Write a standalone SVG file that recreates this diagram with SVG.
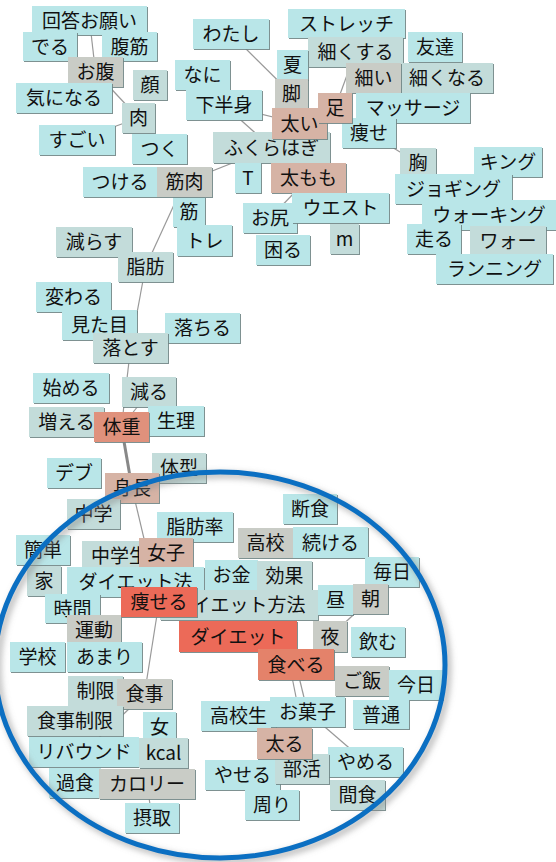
<svg xmlns="http://www.w3.org/2000/svg" width="556" height="862" viewBox="0 0 556 862">
<defs>
<filter id="sh" x="-10%" y="-10%" width="130%" height="140%">
<feDropShadow dx="1" dy="1" stdDeviation="0.3" flood-color="#6f8585" flood-opacity="0.9"/>
</filter>
<filter id="blur" x="-10%" y="-10%" width="120%" height="120%">
<feGaussianBlur stdDeviation="3"/>
</filter>
</defs>
<style>
rect{filter:url(#sh);}
text{font-family:"Noto Sans CJK JP","Noto Sans",sans-serif;font-size:19px;text-anchor:middle;fill:#111;}
.c rect{fill:#b9e6e8;}
.g rect{fill:#c3dcda;}
.k rect{fill:#c9ccc6;}
.t rect{fill:#d6b3a5;}
.s rect{fill:#e0917b;}
.r rect{fill:#ec6b58;}
.o rect{fill:#e4826a;}
#edges line{stroke:#999;stroke-width:1.2;}
#edges line.thick{stroke:#888;stroke-width:3;}
</style>
<rect x="0" y="0" width="556" height="862" fill="#fff" style="filter:none"/>
<g id="edges">
<line x1="89.5" y1="20" x2="95.5" y2="72"/>
<line x1="95.5" y1="72" x2="138.5" y2="118"/>
<line x1="138.5" y1="118" x2="77" y2="140"/>
<line x1="231" y1="34" x2="291.5" y2="94"/>
<line x1="224" y1="105" x2="299.5" y2="123.5"/>
<line x1="224" y1="105" x2="271.5" y2="147.5"/>
<line x1="184.5" y1="182" x2="271.5" y2="147.5"/>
<line x1="355.5" y1="52" x2="335" y2="108"/>
<line x1="308.5" y1="178" x2="270" y2="218"/>
<line x1="369" y1="133" x2="418" y2="163"/>
<line x1="184.5" y1="182" x2="145.5" y2="267"/>
<line x1="145.5" y1="267" x2="130.5" y2="348"/>
<line x1="130.5" y1="348" x2="121.5" y2="427"/>
<line x1="149" y1="392" x2="121.5" y2="427"/>
<line class="thick" x1="121.5" y1="427" x2="132" y2="488"/>
<line x1="132" y1="488" x2="159" y2="602"/>
<line x1="159" y1="602" x2="144.5" y2="694"/>
<line x1="144.5" y1="694" x2="84" y2="752"/>
<line x1="147" y1="784" x2="152" y2="818"/>
<line x1="296" y1="664.5" x2="307.5" y2="712"/>
<line x1="284" y1="637" x2="300" y2="717"/>
<line x1="307.5" y1="712" x2="365.5" y2="762"/>
<line x1="370.5" y1="599" x2="330" y2="636.5"/>
</g>
<g id="n01" class="c"><rect x="32" y="6" width="115" height="29"/><text x="89.5" y="27.5">回答お願い</text></g>
<g id="n02" class="c"><rect x="23" y="32" width="54" height="29"/><text x="50" y="53.5">でる</text></g>
<g id="n03" class="c"><rect x="102" y="32" width="55" height="29"/><text x="129.5" y="53.5">腹筋</text></g>
<g id="n04" class="k"><rect x="68" y="57" width="55" height="30"/><text x="95.5" y="79">お腹</text></g>
<g id="n05" class="g"><rect x="133" y="70" width="34" height="30"/><text x="150" y="92">顔</text></g>
<g id="n06" class="c"><rect x="16" y="83" width="96" height="30"/><text x="64" y="105">気になる</text></g>
<g id="n07" class="g"><rect x="122" y="103" width="33" height="30"/><text x="138.5" y="125">肉</text></g>
<g id="n08" class="c"><rect x="39" y="125" width="76" height="30"/><text x="77" y="147">すごい</text></g>
<g id="n09" class="c"><rect x="132" y="134" width="55" height="30"/><text x="159.5" y="156">つく</text></g>
<g id="n10" class="c"><rect x="83" y="167" width="74" height="30"/><text x="120" y="189">つける</text></g>
<g id="n11" class="c"><rect x="173" y="197" width="32" height="30"/><text x="189" y="219">筋</text></g>
<g id="n12" class="k"><rect x="157" y="167" width="55" height="30"/><text x="184.5" y="189">筋肉</text></g>
<g id="n13" class="c"><rect x="175" y="60" width="55" height="30"/><text x="202.5" y="82">なに</text></g>
<g id="n14" class="c"><rect x="193" y="19" width="76" height="30"/><text x="231" y="41">わたし</text></g>
<g id="n15" class="c"><rect x="288" y="9" width="117" height="29"/><text x="346.5" y="30.5">ストレッチ</text></g>
<g id="n16" class="g"><rect x="308" y="37" width="95" height="30"/><text x="355.5" y="59">細くする</text></g>
<g id="n17" class="c"><rect x="408" y="32" width="54" height="30"/><text x="435" y="54">友達</text></g>
<g id="n18" class="g"><rect x="401" y="63" width="92" height="30"/><text x="447" y="85">細くなる</text></g>
<g id="n19" class="k"><rect x="346" y="63" width="55" height="30"/><text x="373.5" y="85">細い</text></g>
<g id="n20" class="c"><rect x="277" y="50" width="31" height="30"/><text x="292.5" y="72">夏</text></g>
<g id="n21" class="k"><rect x="275" y="79" width="33" height="30"/><text x="291.5" y="101">脚</text></g>
<g id="n22" class="c"><rect x="186" y="90" width="76" height="30"/><text x="224" y="112">下半身</text></g>
<g id="n23" class="c"><rect x="356" y="93" width="114" height="30"/><text x="413" y="115">マッサージ</text></g>
<g id="n24" class="c"><rect x="342" y="118" width="54" height="30"/><text x="369" y="140">痩せ</text></g>
<g id="n25" class="g"><rect x="213" y="132" width="117" height="31"/><text x="271.5" y="154.5">ふくらはぎ</text></g>
<g id="n26" class="t"><rect x="272" y="108" width="55" height="31"/><text x="299.5" y="130.5">太い</text></g>
<g id="n27" class="t"><rect x="318" y="93" width="34" height="30"/><text x="335" y="115">足</text></g>
<g id="n28" class="c"><rect x="235" y="163" width="26" height="30"/><text x="248" y="185">T</text></g>
<g id="n29" class="t"><rect x="271" y="163" width="75" height="30"/><text x="308.5" y="185">太もも</text></g>
<g id="n30" class="g"><rect x="400" y="148" width="36" height="30"/><text x="418" y="170">胸</text></g>
<g id="n31" class="c"><rect x="474" y="147" width="68" height="30"/><text x="508" y="169">キング</text></g>
<g id="n32" class="c"><rect x="395" y="174" width="117" height="30"/><text x="453.5" y="196">ジョギング</text></g>
<g id="n33" class="c"><rect x="422" y="200" width="134" height="30"/><text x="489" y="222">ウォーキング</text></g>
<g id="n34" class="c"><rect x="243" y="203" width="54" height="30"/><text x="270" y="225">お尻</text></g>
<g id="n35" class="c"><rect x="292" y="193" width="97" height="30"/><text x="340.5" y="215">ウエスト</text></g>
<g id="n36" class="g"><rect x="330" y="224" width="29" height="30"/><text x="344.5" y="246">m</text></g>
<g id="n37" class="c"><rect x="256" y="235" width="54" height="30"/><text x="283" y="257">困る</text></g>
<g id="n38" class="c"><rect x="407" y="224" width="54" height="30"/><text x="434" y="246">走る</text></g>
<g id="n39" class="g"><rect x="470" y="226" width="76" height="30"/><text x="508" y="248">ワォー</text></g>
<g id="n40" class="c"><rect x="436" y="254" width="117" height="30"/><text x="494.5" y="276">ランニング</text></g>
<g id="n41" class="c"><rect x="177" y="225" width="55" height="31"/><text x="204.5" y="247.5">トレ</text></g>
<g id="n42" class="g"><rect x="56" y="227" width="76" height="30"/><text x="94" y="249">減らす</text></g>
<g id="n43" class="g"><rect x="118" y="252" width="55" height="30"/><text x="145.5" y="274">脂肪</text></g>
<g id="n44" class="c"><rect x="36" y="282" width="75" height="30"/><text x="73.5" y="304">変わる</text></g>
<g id="n45" class="c"><rect x="62" y="310" width="75" height="30"/><text x="99.5" y="332">見た目</text></g>
<g id="n46" class="c"><rect x="165" y="313" width="75" height="30"/><text x="202.5" y="335">落ちる</text></g>
<g id="n47" class="g"><rect x="93" y="333" width="75" height="30"/><text x="130.5" y="355">落とす</text></g>
<g id="n48" class="c"><rect x="33" y="373" width="76" height="30"/><text x="71" y="395">始める</text></g>
<g id="n49" class="g"><rect x="122" y="377" width="54" height="30"/><text x="149" y="399">減る</text></g>
<g id="n50" class="g"><rect x="29" y="407" width="75" height="30"/><text x="66.5" y="429">増える</text></g>
<g id="n51" class="c"><rect x="148" y="406" width="56" height="30"/><text x="176" y="428">生理</text></g>
<g id="n52" class="s"><rect x="94" y="412" width="55" height="30"/><text x="121.5" y="434">体重</text></g>
<g id="n53" class="c"><rect x="47" y="458" width="54" height="30"/><text x="74" y="480">デブ</text></g>
<g id="n54" class="g"><rect x="152" y="453" width="54" height="30"/><text x="179" y="475">体型</text></g>
<g id="n55" class="t"><rect x="105" y="473" width="54" height="30"/><text x="132" y="495">身長</text></g>
<g id="n56" class="g"><rect x="67" y="499" width="53" height="30"/><text x="93.5" y="521">中学</text></g>
<g id="n57" class="c"><rect x="157" y="512" width="76" height="30"/><text x="195" y="534">脂肪率</text></g>
<g id="n58" class="c"><rect x="16" y="535" width="54" height="30"/><text x="43" y="557">簡単</text></g>
<g id="n59" class="g"><rect x="82" y="541" width="75" height="30"/><text x="119.5" y="563">中学生</text></g>
<g id="n60" class="t"><rect x="139" y="538" width="54" height="30"/><text x="166" y="560">女子</text></g>
<g id="n61" class="g"><rect x="27" y="566" width="34" height="30"/><text x="44" y="588">家</text></g>
<g id="n62" class="c"><rect x="67" y="567" width="137" height="30"/><text x="135.5" y="589">ダイエット法</text></g>
<g id="n63" class="c"><rect x="45" y="594" width="55" height="29"/><text x="72.5" y="615.5">時間</text></g>
<g id="n64" class="k"><rect x="67" y="615" width="54" height="30"/><text x="94" y="637">運動</text></g>
<g id="n65" class="c"><rect x="10" y="642" width="55" height="30"/><text x="37.5" y="664">学校</text></g>
<g id="n66" class="c"><rect x="67" y="642" width="75" height="30"/><text x="104.5" y="664">あまり</text></g>
<g id="n67" class="c"><rect x="283" y="494" width="54" height="30"/><text x="310" y="516">断食</text></g>
<g id="n68" class="k"><rect x="238" y="528" width="55" height="30"/><text x="265.5" y="550">高校</text></g>
<g id="n69" class="c"><rect x="293" y="527" width="75" height="31"/><text x="330.5" y="549.5">続ける</text></g>
<g id="n70" class="c"><rect x="205" y="560" width="53" height="30"/><text x="231.5" y="582">お金</text></g>
<g id="n71" class="g"><rect x="257" y="561" width="55" height="30"/><text x="284.5" y="583">効果</text></g>
<g id="n72" class="g"><rect x="160" y="590" width="158" height="30"/><text x="239" y="612">ダイエット方法</text></g>
<g id="n73" class="r"><rect x="121" y="587" width="76" height="30"/><text x="159" y="609">痩せる</text></g>
<g id="n74" class="c"><rect x="365" y="557" width="54" height="30"/><text x="392" y="579">毎日</text></g>
<g id="n75" class="c"><rect x="318" y="585" width="35" height="30"/><text x="335.5" y="607">昼</text></g>
<g id="n76" class="k"><rect x="353" y="584" width="35" height="30"/><text x="370.5" y="606">朝</text></g>
<g id="n77" class="r"><rect x="179" y="621" width="118" height="31"/><text x="238" y="643.5">ダイエット</text></g>
<g id="n78" class="k"><rect x="313" y="621" width="34" height="31"/><text x="330" y="643.5">夜</text></g>
<g id="n79" class="c"><rect x="351" y="627" width="54" height="30"/><text x="378" y="649">飲む</text></g>
<g id="n80" class="o"><rect x="258" y="649" width="76" height="31"/><text x="296" y="671.5">食べる</text></g>
<g id="n81" class="k"><rect x="335" y="666" width="54" height="30"/><text x="362" y="688">ご飯</text></g>
<g id="n82" class="c"><rect x="389" y="670" width="54" height="30"/><text x="416" y="692">今日</text></g>
<g id="n83" class="c"><rect x="353" y="700" width="56" height="29"/><text x="381" y="721.5">普通</text></g>
<g id="n84" class="g"><rect x="68" y="676" width="55" height="30"/><text x="95.5" y="698">制限</text></g>
<g id="n85" class="k"><rect x="117" y="679" width="55" height="30"/><text x="144.5" y="701">食事</text></g>
<g id="n86" class="g"><rect x="27" y="706" width="96" height="30"/><text x="75" y="728">食事制限</text></g>
<g id="n87" class="c"><rect x="143" y="712" width="33" height="30"/><text x="159.5" y="734">女</text></g>
<g id="n88" class="c"><rect x="29" y="737" width="110" height="30"/><text x="84" y="759">リバウンド</text></g>
<g id="n89" class="g"><rect x="139" y="738" width="49" height="30"/><text x="163.5" y="760">kcal</text></g>
<g id="n90" class="c"><rect x="49" y="768" width="52" height="30"/><text x="75" y="790">過食</text></g>
<g id="n91" class="k"><rect x="99" y="769" width="96" height="30"/><text x="147" y="791">カロリー</text></g>
<g id="n92" class="c"><rect x="125" y="803" width="54" height="30"/><text x="152" y="825">摂取</text></g>
<g id="n93" class="c"><rect x="201" y="701" width="75" height="30"/><text x="238.5" y="723">高校生</text></g>
<g id="n94" class="c"><rect x="270" y="697" width="75" height="30"/><text x="307.5" y="719">お菓子</text></g>
<g id="n95" class="c"><rect x="328" y="747" width="75" height="30"/><text x="365.5" y="769">やめる</text></g>
<g id="n96" class="g"><rect x="330" y="780" width="55" height="30"/><text x="357.5" y="802">間食</text></g>
<g id="n97" class="c"><rect x="205" y="760" width="75" height="30"/><text x="242.5" y="782">やせる</text></g>
<g id="n98" class="g"><rect x="275" y="754" width="54" height="30"/><text x="302" y="776">部活</text></g>
<g id="n99" class="t"><rect x="257" y="728" width="55" height="31"/><text x="284.5" y="750.5">太る</text></g>
<g id="n100" class="c"><rect x="245" y="790" width="54" height="30"/><text x="272" y="812">周り</text></g>
<g id="highlight">
<ellipse cx="223" cy="668" rx="225" ry="193" fill="none" stroke="#888" stroke-opacity="0.6" stroke-width="6" filter="url(#blur)"/>
<ellipse cx="220" cy="665" rx="225" ry="193" fill="none" stroke="#0b6fc2" stroke-width="5"/>
</g>
</svg>
